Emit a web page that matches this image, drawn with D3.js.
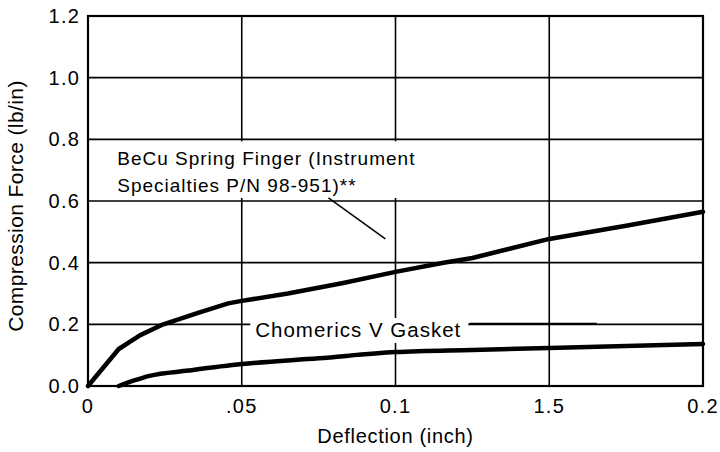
<!DOCTYPE html>
<html>
<head>
<meta charset="utf-8">
<script src="https://cdn.jsdelivr.net/npm/d3@7"></script>
<style>
  body { margin: 0; background: #fff; }
  text { font-family: "Liberation Sans", Arial, sans-serif; fill: #000; }
</style>
</head>
<body>
<div id="chart"></div>
<script>
// data
var xTicks = [0, 0.05, 0.1, 0.15, 0.2];
var xTickLabels = ["0", ".05", "0.1", "1.5", "0.2"];
var yTicks = [0, 0.2, 0.4, 0.6, 0.8, 1.0, 1.2];
var yTickLabels = ["0.0", "0.2", "0.4", "0.6", "0.8", "1.0", "1.2"];

var becuX = [0, 0.01, 0.017, 0.0245, 0.0358, 0.0456, 0.05, 0.065, 0.083, 0.1, 0.1156, 0.125, 0.15, 0.175, 0.2];
var becuY = [0, 0.12, 0.165, 0.2, 0.237, 0.268, 0.276, 0.3, 0.334, 0.37, 0.4, 0.415, 0.477, 0.52, 0.565];

var chomX = [0.01, 0.015, 0.02, 0.0326, 0.05, 0.075, 0.1, 0.125, 0.15, 0.2];
var chomY = [0, 0.018, 0.033, 0.05, 0.071, 0.09, 0.11, 0.117, 0.123, 0.136];

var svgWidth = 720;
var svgHeight = 452;

var margin = {
    top: 16,
    right: 17,
    bottom: 66,
    left: 88
};

var width = svgWidth - margin.left - margin.right;
var height = svgHeight - margin.top - margin.bottom;

var svg = d3.select("#chart")
    .append("svg")
    .attr("width", svgWidth)
    .attr("height", svgHeight);

var chartGroup = svg.append("g")
    .attr("transform", `translate(${margin.left}, ${margin.top})`);

var xScale = d3.scaleLinear().domain([0, 0.2]).range([0, width]);
var yScale = d3.scaleLinear().domain([0, 1.2]).range([height, 0]);

// grid
chartGroup.append("g")
    .selectAll("line.h")
    .data(yTicks)
    .enter()
    .append("line")
    .attr("x1", 0)
    .attr("x2", width)
    .attr("y1", d => yScale(d))
    .attr("y2", d => yScale(d))
    .attr("stroke", "#000")
    .attr("stroke-width", 1.6);

chartGroup.append("g")
    .selectAll("line.v")
    .data(xTicks)
    .enter()
    .append("line")
    .attr("x1", d => xScale(d))
    .attr("x2", d => xScale(d))
    .attr("y1", 0)
    .attr("y2", height)
    .attr("stroke", "#000")
    .attr("stroke-width", 1.6);

// frame
chartGroup.append("rect")
    .attr("width", width)
    .attr("height", height)
    .attr("fill", "none")
    .attr("stroke", "#000")
    .attr("stroke-width", 2.2);

// tick labels
chartGroup.append("g")
    .selectAll("text")
    .data(yTicks)
    .enter()
    .append("text")
    .attr("x", -8)
    .attr("y", d => yScale(d) + 7)
    .attr("text-anchor", "end")
    .style("font-size", "20px")
    .style("letter-spacing", "1.2px")
    .text((d, i) => yTickLabels[i]);

chartGroup.append("g")
    .selectAll("text")
    .data(xTicks)
    .enter()
    .append("text")
    .attr("x", d => xScale(d))
    .attr("y", height + 27)
    .attr("text-anchor", "middle")
    .style("font-size", "20px")
    .style("letter-spacing", "1.2px")
    .text((d, i) => xTickLabels[i]);

// axis titles
chartGroup.append("text")
    .attr("x", width / 2)
    .attr("y", height + 57)
    .attr("text-anchor", "middle")
    .style("font-size", "20px")
    .style("letter-spacing", "0.7px")
    .text("Deflection (inch)");

chartGroup.append("text")
    .attr("transform", "rotate(-90)")
    .attr("x", -(height / 2) - 5)
    .attr("y", -margin.left + 23)
    .attr("text-anchor", "middle")
    .style("font-size", "21px")
    .style("letter-spacing", "0.4px")
    .text("Compression Force (lb/in)");

// labels with white knockout
var becuLabel = chartGroup.append("g");
var becuText = becuLabel.append("text")
    .attr("x", xScale(0.0095))
    .attr("y", yScale(0.717))
    .style("font-size", "19px")
    .style("letter-spacing", "1px");
becuText.append("tspan")
    .attr("x", xScale(0.0095))
    .text("BeCu Spring Finger (Instrument");
becuText.append("tspan")
    .attr("x", xScale(0.0095))
    .attr("dy", 27)
    .text("Specialties P/N 98-951)**");

var bb = becuText.node().getBBox();
becuLabel.insert("rect", "text")
    .attr("x", bb.x - 6)
    .attr("y", yScale(0.8) + 2)
    .attr("width", bb.width + 12)
    .attr("height", yScale(0.6) - yScale(0.8) - 5)
    .attr("fill", "#fff");

var chomLabel = chartGroup.append("g");
var chomText = chomLabel.append("text")
    .attr("x", xScale(0.0544))
    .attr("y", yScale(0.159))
    .style("font-size", "20.5px")
    .style("letter-spacing", "1px")
    .text("Chomerics V Gasket");

var cb = chomText.node().getBBox();
chomLabel.insert("rect", "text")
    .attr("x", cb.x - 5)
    .attr("y", cb.y)
    .attr("width", cb.width + 12)
    .attr("height", cb.height + 2)
    .attr("fill", "#fff");

// leader lines
chartGroup.append("line")
    .attr("x1", cb.x + cb.width + 8)
    .attr("x2", xScale(0.1655))
    .attr("y1", yScale(0.2) - 0.5)
    .attr("y2", yScale(0.2) - 0.5)
    .attr("stroke", "#000")
    .attr("stroke-width", 2);

chartGroup.append("line")
    .attr("x1", xScale(0.0782))
    .attr("y1", yScale(0.61))
    .attr("x2", xScale(0.0967))
    .attr("y2", yScale(0.477))
    .attr("stroke", "#000")
    .attr("stroke-width", 1.5);

// curves
var becuLine = d3.line()
    .x(d => xScale(d[0]))
    .y(d => yScale(d[1]))
    .curve(d3.curveLinear);

var chomLine = d3.line()
    .x(d => xScale(d[0]))
    .y(d => yScale(d[1]))
    .curve(d3.curveMonotoneX);

chartGroup.append("path")
    .datum(becuX.map((x, i) => [x, becuY[i]]))
    .attr("d", becuLine)
    .attr("fill", "none")
    .attr("stroke", "#000")
    .attr("stroke-width", 4.5)
    .attr("stroke-linejoin", "round")
    .attr("stroke-linecap", "round");

chartGroup.append("path")
    .datum(chomX.map((x, i) => [x, chomY[i]]))
    .attr("d", chomLine)
    .attr("fill", "none")
    .attr("stroke", "#000")
    .attr("stroke-width", 4.5)
    .attr("stroke-linecap", "round");
</script>
</body>
</html>
